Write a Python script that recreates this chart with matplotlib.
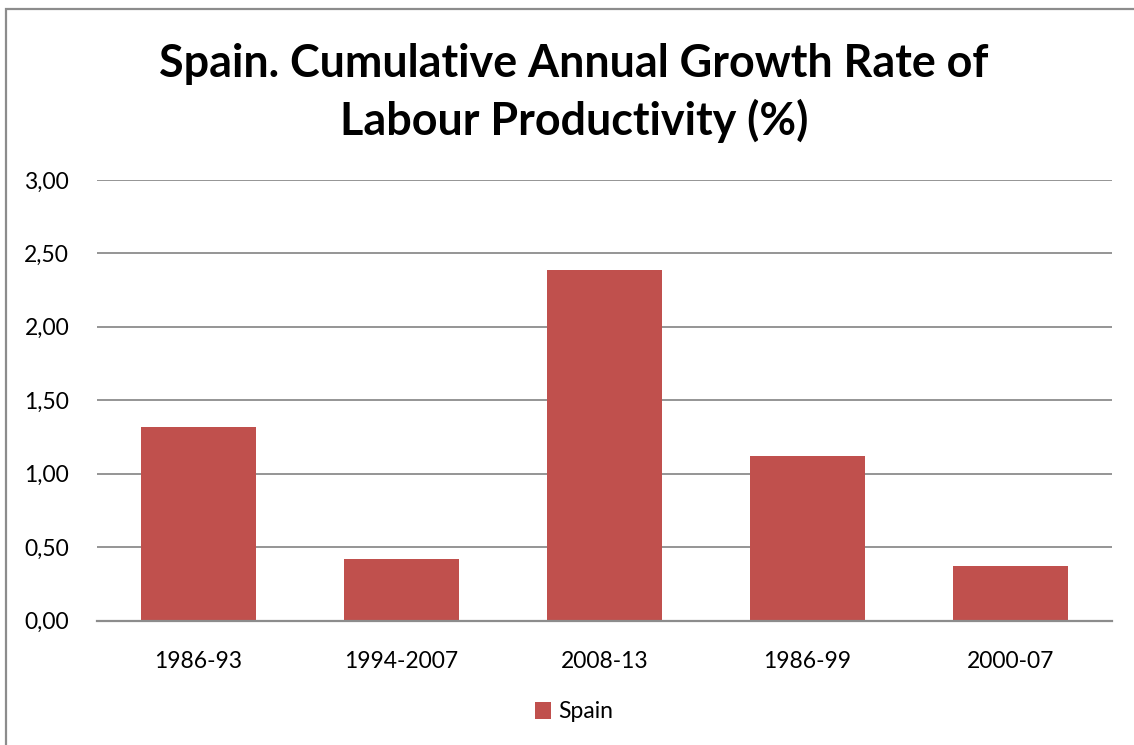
import matplotlib
matplotlib.use("Agg")
import matplotlib.pyplot as plt
from matplotlib.patches import Rectangle
from matplotlib.ticker import FuncFormatter, MultipleLocator

periods = ["1986-93", "1994-2007", "2008-13", "1986-99", "2000-07"]
spain = [1.32, 0.42, 2.39, 1.12, 0.37]

bar_color = "#C0504D"
grid_color = "#8C8C8C"

plt.rcParams["font.family"] = ["Lato", "DejaVu Sans"]

fig = plt.figure(figsize=(11.34, 7.45), dpi=100)
W, H = 1134, 745

# outer chart frame (extends past the right and bottom edges)
fig.patches.append(Rectangle((6 / W, -0.05), 1.2, (H - 9) / H + 0.05,
                             transform=fig.transFigure, fill=False,
                             edgecolor=grid_color, linewidth=1.6))

ax = fig.add_axes([97 / W, (H - 620.5) / H, (1112 - 97) / W, (620.5 - 180) / H])
x = list(range(len(periods)))
bars = ax.bar(x, spain, width=0.57, color=bar_color, label="Spain", zorder=3)

ax.set_ylim(0, 3.0)
ax.set_xlim(-0.5, len(periods) - 0.5)
ax.yaxis.set_major_locator(MultipleLocator(0.5))
ax.yaxis.set_major_formatter(FuncFormatter(lambda v, p: f"{v:.2f}".replace(".", ",")))
ax.grid(axis="y", color=grid_color, linewidth=1.3, zorder=0)
for s in ["top", "right", "left"]:
    ax.spines[s].set_visible(False)
ax.spines["bottom"].set_color(grid_color)
ax.spines["bottom"].set_linewidth(1.6)
ax.spines["bottom"].set_zorder(4)
ax.tick_params(axis="both", length=0, labelsize=16.5, colors="black")
ax.tick_params(axis="y", pad=20)
ax.tick_params(axis="x", pad=22)
ax.set_xticks(x)
ax.set_xticklabels(periods)

fig.text(574 / W, 1 - 93 / H, "Spain. Cumulative Annual Growth Rate of\nLabour Productivity (%)",
         ha="center", va="center", fontsize=32.3, fontweight="bold", linespacing=1.4)

leg = fig.legend(handles=[bars], labels=["Spain"], loc="center",
                 bbox_to_anchor=(574 / W, 1 - 712 / H), frameon=False,
                 fontsize=16.5, handlelength=0.7, handleheight=0.7, handletextpad=0.3)

fig.savefig("out.png", dpi=100)
